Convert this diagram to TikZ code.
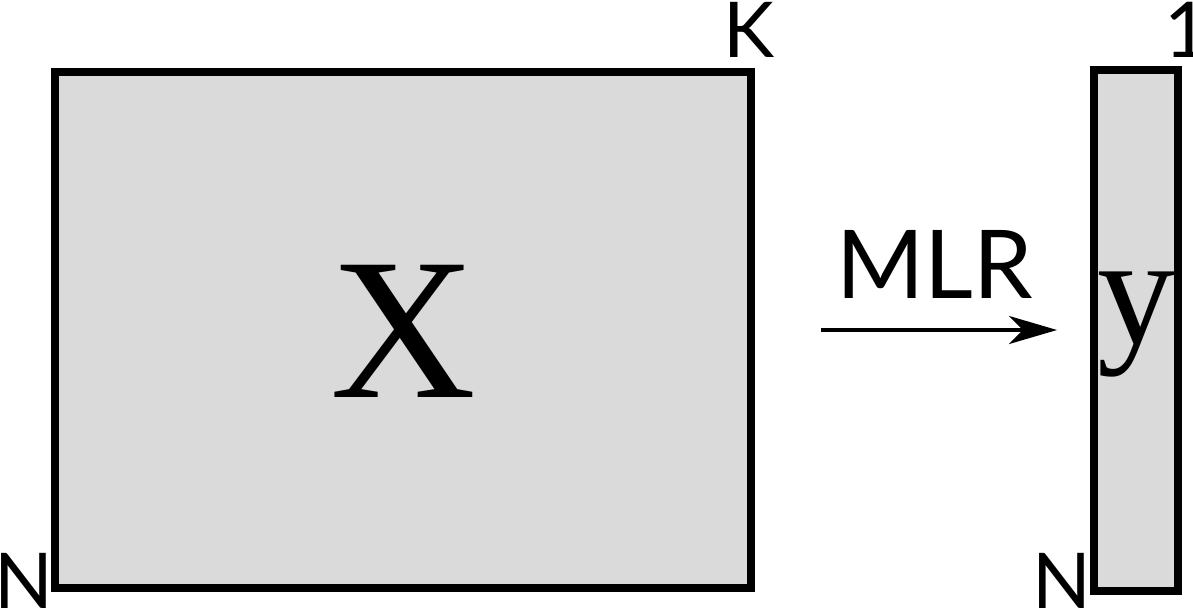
\documentclass[tikz,border=0pt]{standalone}
\usepackage{fontspec}
\setmainfont{Lato}
\newfontfamily\serifX{Liberation Serif}
\usetikzlibrary{arrows.meta}
\definecolor{boxfill}{RGB}{218,218,218}
\tikzset{
  matbox/.style={draw=black, fill=boxfill, line width=8.3pt, inner sep=0pt, rectangle},
  lab/.style={inner sep=0pt, font=\fontsize{77}{80}\selectfont},
  big/.style={inner sep=0pt},
}
\begin{document}
\begin{tikzpicture}[x=1pt,y=-1pt]
\useasboundingbox (0,0) rectangle (1193,613);
\node[matbox, minimum width=696pt, minimum height=516pt] (X) at (403,330) {};
\node[matbox, minimum width=84pt, minimum height=521pt] (Y) at (1136,330.5) {};
\node[big, anchor=base, font=\serifX\fontsize{202}{210}\selectfont] (Xl) at (403,397) {X};
\node[big, anchor=base, font=\serifX\fontsize{156}{160}\selectfont] (Yl) at (1136,343) {y};
\node[lab, anchor=base west] (K) at (723,57) {K};
\node[lab, anchor=base west] (N1) at (-6,608) {N};
\node[lab, anchor=base west] (N2) at (1032,608) {N};
\node[lab, anchor=base] (one) at (1187,57) {1};
\node[inner sep=0pt, anchor=base west, font=\fontsize{95}{100}\selectfont] (mlr) at (836,298) {MLR};
\coordinate (a1) at (821,330);
\coordinate (a2) at (1057,330);
\draw[line width=4pt, -{Stealth[length=48pt,width=28pt,inset=14pt]}] (a1) -- (a2);
\end{tikzpicture}
\end{document}
